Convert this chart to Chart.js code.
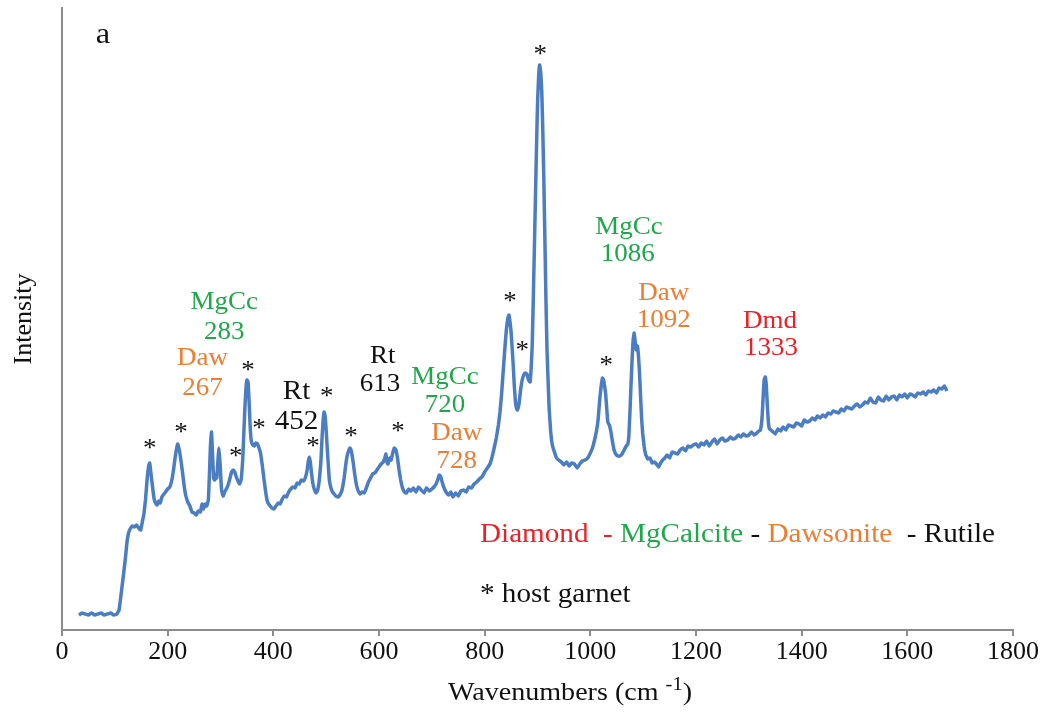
<!DOCTYPE html>
<html>
<head>
<meta charset="utf-8">
<script src="https://cdn.jsdelivr.net/npm/chart.js@4.4.1/dist/chart.umd.min.js"></script>
<style>
  html, body { margin: 0; padding: 0; background: #fff; }
  #wrap { width: 1050px; height: 715px; position: relative; }
</style>
</head>
<body>
<div id="wrap"><canvas id="spectrum"></canvas></div>
<script>
// Raman spectrum
const wavenumbers = [
  32, 38, 44, 50, 56, 62, 68, 74, 80, 86, 92, 98, 104, 108, 111, 114, 117, 120, 123, 126,
  129, 133, 137, 141, 145, 149, 152, 155, 158, 161, 164, 166, 168, 171, 174, 177, 180, 183, 186, 189,
  193, 196, 200, 204, 208, 211, 214, 217, 219, 222, 225, 228, 231, 234, 238, 242, 246, 250, 254, 258,
  262, 265, 268, 271, 274, 277, 279, 281, 283, 285, 287, 289, 291, 293, 295, 297, 299, 302, 305, 308,
  312, 315, 318, 321, 324, 327, 330, 333, 336, 339, 342, 344, 346, 348, 350, 352, 354, 356, 358, 361,
  364, 367, 370, 373, 376, 379, 382, 385, 388, 391, 394, 397, 401, 405, 409, 413, 417, 421, 425, 429,
  433, 437, 441, 445, 449, 453, 457, 461, 464, 466, 468, 470, 472, 475, 478, 481, 484, 487, 490, 492,
  494, 496, 498, 500, 502, 504, 506, 509, 512, 515, 518, 522, 526, 530, 534, 537, 540, 543, 545, 548,
  551, 554, 557, 560, 564, 568, 572, 576, 580, 584, 588, 592, 596, 600, 604, 608, 611, 613, 615, 617,
  620, 623, 626, 629, 632, 635, 638, 641, 644, 648, 652, 656, 660, 665, 670, 675, 680, 685, 690, 695,
  700, 704, 708, 711, 714, 717, 720, 724, 728, 732, 736, 740, 745, 750, 755, 760, 765, 770, 775, 780,
  785, 790, 795, 800, 805, 810, 814, 818, 822, 826, 829, 832, 835, 838, 841, 844, 846, 848, 850, 852,
  854, 856, 858, 860, 862, 865, 868, 871, 874, 877, 880, 883, 886, 888, 890, 892, 894, 896, 898, 900,
  902, 904, 906, 908, 910, 912, 914, 916, 918, 920, 922, 925, 928, 932, 936, 940, 945, 950, 955, 960,
  965, 970, 975, 980, 985, 990, 995, 1000, 1004, 1008, 1012, 1015, 1018, 1021, 1023, 1025, 1027, 1029, 1031, 1033,
  1036, 1039, 1042, 1045, 1048, 1052, 1056, 1060, 1064, 1068, 1071, 1073, 1075, 1077, 1079, 1081, 1083, 1085, 1087, 1089,
  1091, 1093, 1095, 1097, 1099, 1102, 1105, 1109, 1113, 1117, 1121, 1125, 1129, 1133, 1137, 1141, 1145, 1150, 1155, 1160,
  1165, 1170, 1175, 1180, 1185, 1190, 1195, 1200, 1205, 1210, 1215, 1220, 1225, 1230, 1235, 1240, 1245, 1250, 1255, 1260,
  1265, 1270, 1275, 1280, 1285, 1290, 1295, 1300, 1305, 1310, 1315, 1319, 1322, 1325, 1327, 1329, 1331, 1333, 1335, 1337,
  1339, 1342, 1346, 1350, 1355, 1360, 1365, 1370, 1375, 1380, 1385, 1390, 1395, 1400, 1405, 1410, 1415, 1420, 1425, 1430,
  1435, 1440, 1445, 1450, 1455, 1460, 1465, 1470, 1475, 1480, 1485, 1490, 1495, 1500, 1505, 1510, 1515, 1520, 1525, 1530,
  1535, 1540, 1545, 1550, 1555, 1560, 1565, 1570, 1575, 1580, 1585, 1590, 1595, 1600, 1605, 1610, 1615, 1620, 1625, 1630,
  1635, 1640, 1645, 1650, 1655, 1660, 1665, 1670, 1675
];
const intensity = [
  15, 17, 16, 15, 17, 15, 16, 17, 15, 16, 17, 15, 16, 20, 32, 45, 58, 72, 88, 97,
  101, 104, 103, 105, 102, 100, 108, 116, 130, 150, 164, 167, 158, 145, 132, 127, 125, 129, 127, 133,
  136, 138, 141, 143, 150, 160, 172, 182, 186, 180, 170, 158, 145, 135, 128, 124, 118, 117, 115, 119,
  118, 126, 121, 126, 124, 130, 155, 185, 198, 175, 152, 150, 156, 152, 168, 182, 168, 140, 134, 138,
  142, 146, 152, 158, 160, 158, 153, 149, 146, 150, 170, 195, 220, 240, 250, 248, 230, 205, 190, 185,
  184, 187, 186, 182, 176, 165, 152, 140, 130, 126, 124, 122, 121, 124, 127, 126, 131, 134, 133, 138,
  141, 143, 142, 147, 146, 150, 149, 153, 160, 168, 173, 168, 158, 146, 140, 137, 140, 150, 168, 190,
  208, 218, 214, 200, 182, 165, 150, 142, 138, 136, 134, 133, 135, 140, 152, 165, 175, 180, 182, 178,
  168, 156, 146, 140, 136, 138, 137, 142, 148, 152, 156, 157, 160, 163, 166, 168, 172, 176, 168, 166,
  172, 170, 177, 182, 180, 172, 160, 150, 143, 138, 137, 141, 139, 142, 138, 143, 140, 137, 142, 139,
  141, 143, 146, 150, 155, 153, 147, 141, 137, 135, 138, 133, 137, 134, 139, 140, 138, 143, 142, 146,
  148, 151, 153, 158, 162, 166, 173, 182, 192, 205, 218, 236, 258, 280, 300, 312, 315, 308, 298, 282,
  265, 245, 230, 222, 220, 226, 240, 250, 255, 257, 256, 250, 248, 262, 285, 330, 380, 430, 480, 525,
  552, 565, 558, 540, 500, 450, 390, 330, 280, 250, 222, 198, 185, 178, 172, 170, 168, 165, 168, 164,
  167, 166, 162, 166, 169, 170, 172, 177, 182, 190, 200, 212, 232, 246, 252, 250, 244, 236, 222, 208,
  205, 198, 188, 180, 176, 174, 174, 176, 180, 184, 186, 195, 218, 245, 270, 290, 297, 288, 280, 284,
  275, 258, 235, 212, 197, 183, 175, 171, 172, 167, 168, 166, 163, 167, 170, 172, 175, 172, 178, 177,
  176, 180, 182, 179, 184, 183, 185, 186, 183, 187, 185, 189, 184, 188, 191, 186, 190, 192, 189, 190,
  193, 191, 192, 195, 193, 196, 194, 195, 198, 195, 197, 199, 200, 212, 232, 250, 253, 245, 225, 208,
  201, 200, 198, 196, 201, 199, 203, 200, 205, 204, 203, 207, 206, 204, 210, 208, 209, 212, 210, 214,
  212, 215, 213, 217, 216, 219, 218, 217, 221, 219, 223, 222, 221, 224, 226, 223, 225, 228, 227, 232,
  228, 227, 233, 230, 229, 234, 230, 233, 234, 230, 235, 233, 236, 232, 236, 235, 233, 237, 236, 238,
  235, 239, 238, 240, 237, 242, 241, 244, 239
];
const xTicks = [0, 200, 400, 600, 800, 1000, 1200, 1400, 1600, 1800];

// host garnet bands marked with *
const garnetX = [166, 225, 329, 352, 373, 475, 501, 547, 636, 848, 871, 905, 1030];
const garnetY = [186, 202, 178, 264, 206, 188, 238, 198, 203, 333, 284, 580, 269];

// band labels: [wavenumber, intensity, text, colour, size]
const GREEN = '#1fa84a', ORANGE = '#ed7d31', RED = '#ee1f26', BLACK = '#111111';
const bandLabels = [
  [307, 329, 'MgCc', GREEN, 25], [307, 299, '283', GREEN, 25],
  [266, 273, 'Daw', ORANGE, 25], [266, 243, '267', ORANGE, 25],
  [444, 240, 'Rt', BLACK, 27], [444, 210, '452', BLACK, 27],
  [607, 275, 'Rt', BLACK, 25], [602, 247, '613', BLACK, 25],
  [725, 254, 'MgCc', GREEN, 25], [725, 226, '720', GREEN, 25],
  [747, 198, 'Daw', ORANGE, 25], [747, 170, '728', ORANGE, 25],
  [1073, 404, 'MgCc', GREEN, 25], [1071, 377, '1086', GREEN, 25],
  [1139, 338, 'Daw', ORANGE, 25], [1139, 311, '1092', ORANGE, 25],
  [1340, 310, 'Dmd', RED, 25], [1342, 283, '1333', RED, 25]
];

const SERIF = "'Liberation Serif', 'Times New Roman', serif";
const AXIS_GREY = '#8c8c8c';
const STRETCH = 1.08; // the original lettering is a little wide

// draw text slightly stretched sideways, anchored at (x, y)
function wideText(ctx, text, x, y, align) {
  ctx.save();
  ctx.translate(x, y);
  ctx.scale(STRETCH, 1);
  ctx.textAlign = align || 'center';
  ctx.fillText(text, 0, 0);
  ctx.restore();
}

const textPlugin = {
  id: 'peakText',
  afterDraw(chart) {
    const { ctx, scales: { x, y } } = chart;
    ctx.save();
    ctx.textBaseline = 'alphabetic';

    // asterisks
    ctx.fillStyle = BLACK;
    ctx.font = '25px ' + SERIF;
    garnetX.forEach((wn, i) => {
      wideText(ctx, '*', x.getPixelForValue(wn), y.getPixelForValue(garnetY[i]) + 25 * 0.48);
    });

    // band labels
    bandLabels.forEach(([wn, val, text, color, size]) => {
      ctx.fillStyle = color;
      ctx.font = size + 'px ' + SERIF;
      wideText(ctx, text, x.getPixelForValue(wn), y.getPixelForValue(val) + size * 0.33);
    });

    // panel letter
    ctx.fillStyle = BLACK;
    ctx.font = '30px ' + SERIF;
    wideText(ctx, 'a', 103, 43);

    // legend lines
    ctx.font = '27px ' + SERIF;
    let lx = 480;
    [['Diamond', RED], ['  - ', RED], ['MgCalcite', GREEN], [' - ', BLACK],
     ['Dawsonite', ORANGE], ['  - Rutile', BLACK]].forEach(([t, c]) => {
      ctx.fillStyle = c;
      wideText(ctx, t, lx, 542, 'left');
      lx += ctx.measureText(t).width * STRETCH;
    });
    ctx.fillStyle = BLACK;
    wideText(ctx, '* host garnet', 480, 602, 'left');

    // x axis title with superscript
    ctx.font = '26px ' + SERIF;
    const main = 'Wavenumbers (cm ';
    const wMain = ctx.measureText(main).width * STRETCH;
    const wEnd = ctx.measureText(')').width * STRETCH;
    ctx.font = '19px ' + SERIF;
    const wSup = ctx.measureText('-1').width * STRETCH;
    const tx = 570 - (wMain + wSup + wEnd) / 2;
    ctx.font = '26px ' + SERIF;
    wideText(ctx, main, tx, 700, 'left');
    wideText(ctx, ')', tx + wMain + wSup, 700, 'left');
    ctx.font = '19px ' + SERIF;
    wideText(ctx, '-1', tx + wMain, 690, 'left');
    ctx.restore();
  }
};

new Chart(document.getElementById('spectrum'), {
  type: 'line',
  data: {
    datasets: [{
      data: wavenumbers.map((wn, i) => ({ x: wn, y: intensity[i] })),
      borderColor: '#4a7dc2',
      borderWidth: 3.5,
      pointRadius: 0,
      tension: 0.1,
      fill: false
    }]
  },
  options: {
    responsive: true,
    maintainAspectRatio: false,
    animation: false,
    layout: { padding: { left: 9, right: 37, top: 8, bottom: 0 } },
    plugins: { legend: { display: false }, tooltip: { enabled: false } },
    scales: {
      x: {
        type: 'linear',
        min: 0,
        max: 1800,
        afterBuildTicks: (scale) => { scale.ticks = xTicks.map(v => ({ value: v })); },
        afterFit: (scale) => { scale.height = 85; scale.paddingLeft = 0; scale.paddingRight = 0; },
        ticks: {
          color: BLACK,
          font: { family: SERIF, size: 26 },
          padding: 1,
          maxRotation: 0,
          callback: (v) => String(v)
        },
        grid: { drawOnChartArea: false, drawTicks: true, tickLength: 6, color: AXIS_GREY, lineWidth: 2 },
        border: { color: AXIS_GREY, width: 2 }
      },
      y: {
        min: 0,
        max: 622,
        afterFit: (scale) => { scale.width = 53; },
        ticks: { display: false },
        grid: { display: false },
        border: { display: true, color: AXIS_GREY, width: 2 },
        title: { display: true, text: 'Intensity', color: BLACK, font: { family: SERIF, size: 26 }, padding: { top: 0, bottom: 0 } }
      }
    }
  },
  plugins: [textPlugin]
});
</script>
</body>
</html>
